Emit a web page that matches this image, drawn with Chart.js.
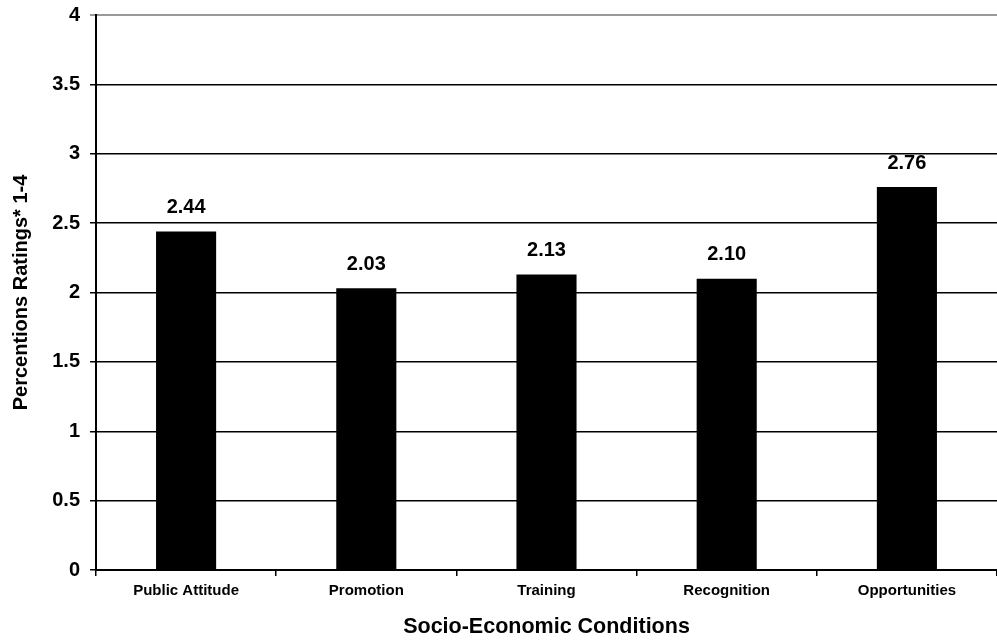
<!DOCTYPE html>
<html>
<head>
<meta charset="utf-8">
<script src="https://cdn.jsdelivr.net/npm/chart.js@4"></script>
<style>
html,body{margin:0;padding:0;background:#fff;}
#wrap{width:997px;height:640px;position:relative;}
</style>
</head>
<body>
<div id="wrap"><canvas id="c" width="997" height="640"></canvas></div>
<script>
const categories = ["Public Attitude", "Promotion", "Training", "Recognition", "Opportunities"];
const ratings = [2.44, 2.03, 2.13, 2.10, 2.76];
const yMin = 0, yMax = 4, yStep = 0.5;
const xTitle = "Socio-Economic Conditions";
const yTitle = "Percentions Ratings* 1-4";

const FONT = "'Liberation Sans', Arial, sans-serif";

const valueLabels = {
  id: 'valueLabels',
  afterDatasetsDraw(chart) {
    const ctx = chart.ctx;
    const meta = chart.getDatasetMeta(0);
    ctx.save();
    ctx.font = "bold 20px " + FONT;
    ctx.fillStyle = "#000";
    ctx.textAlign = "center";
    ctx.textBaseline = "middle";
    meta.data.forEach((bar, i) => {
      ctx.fillText(ratings[i].toFixed(2), bar.x, bar.y - 24);
    });
    ctx.restore();
  }
};

new Chart(document.getElementById('c'), {
  type: 'bar',
  data: {
    labels: categories,
    datasets: [{
      data: ratings,
      backgroundColor: '#000',
      borderWidth: 0,
      barPercentage: 0.667,
      categoryPercentage: 0.5
    }]
  },
  options: {
    responsive: false,
    animation: false,
    layout: { padding: { top: 15, right: 0, left: 0, bottom: 0 } },
    plugins: { legend: { display: false }, tooltip: { enabled: false } },
    scales: {
      x: {
        offset: true,
        grid: { display: true, drawOnChartArea: false, drawTicks: true, tickLength: 6, color: '#000', lineWidth: 1.5, offset: true },
        border: { display: true, color: '#000', width: 2 },
        ticks: { color: '#000', font: { family: FONT, size: 15, weight: 'bold' }, padding: 6, maxRotation: 0 },
        title: { display: true, text: xTitle, color: '#000', font: { family: FONT, size: 21.5, weight: 'bold' }, padding: { top: 0, bottom: 0 } },
        afterFit(s) { s.height = 70; s.paddingLeft = 0; s.paddingRight = 0; }
      },
      y: {
        min: yMin, max: yMax,
        ticks: {
          stepSize: yStep, color: '#000', font: { family: FONT, size: 20, weight: 'bold' }, padding: 10,
          callback: (v) => String(+v)
        },
        grid: {
          color: (c) => (c.tick && c.tick.value === yMax) ? '#999' : '#000',
          lineWidth: (c) => (c.tick && c.tick.value === yMax) ? 2 : 1.5,
          drawTicks: true, tickLength: 6
        },
        border: { display: true, color: '#000', width: 2 },
        title: { display: true, text: yTitle, color: '#000', font: { family: FONT, size: 20, weight: 'bold' }, padding: { top: 9, bottom: 0 } },
        afterFit(s) { s.width = 96; s.paddingTop = 0; s.paddingBottom = 0; }
      }
    }
  },
  plugins: [valueLabels]
});
</script>
</body>
</html>
